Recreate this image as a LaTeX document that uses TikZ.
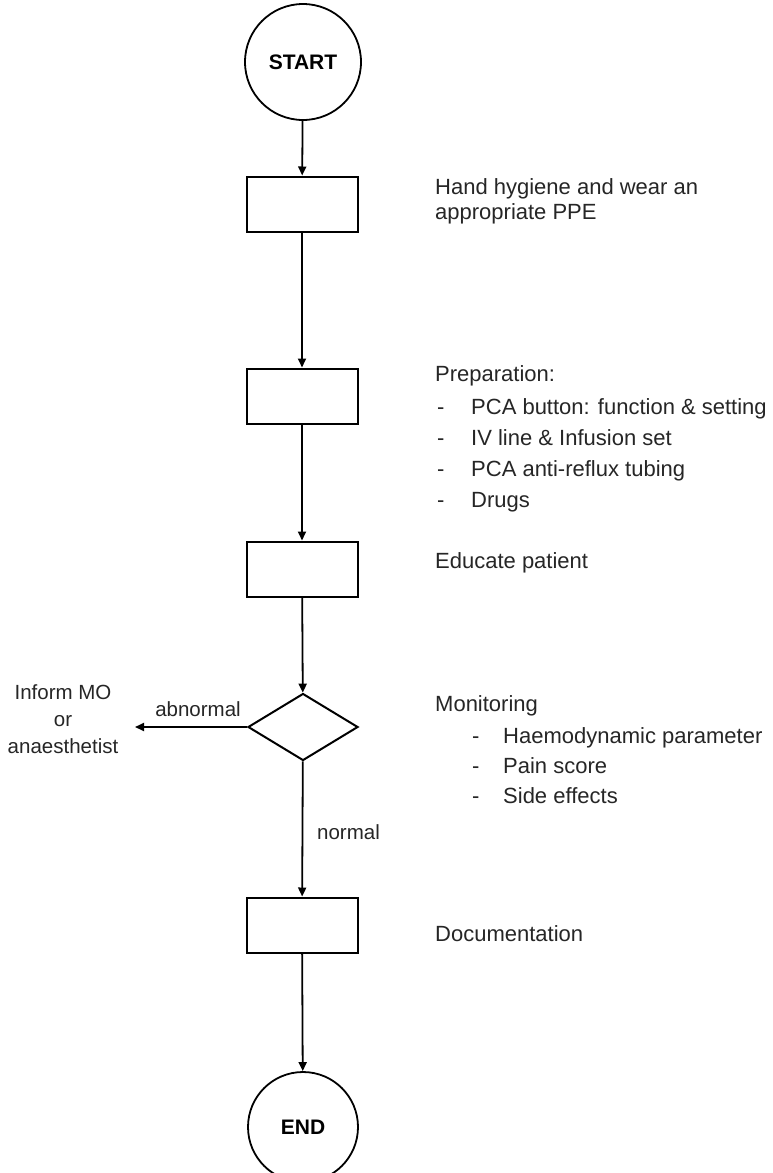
\documentclass[tikz,border=0pt]{standalone}
\usepackage{fontspec}
\setmainfont{Liberation Sans}
\usepackage{tikz}
\usetikzlibrary{arrows.meta,shapes.geometric}
\tikzset{
  term/.style={draw,circle,line width=1.8pt,minimum size=116pt,inner sep=0pt,font=\fontsize{21}{25}\selectfont\bfseries},
  stp/.style={draw,rectangle,line width=2pt,minimum width=111pt,minimum height=55pt,inner sep=0pt},
  dec/.style={draw,diamond,line width=2pt,minimum width=110pt,minimum height=67pt,inner sep=0pt},
  flw/.style={line width=1.8pt,-{Triangle[length=9pt,width=8pt]}},
  txt/.style={anchor=west,inner sep=0pt,text height=16pt,text depth=5pt,text=black!85,font=\fontsize{22}{25}\selectfont},
  lbl/.style={inner sep=0pt,text=black!85,font=\fontsize{20.5}{27}\selectfont}
}

\begin{document}
\begin{tikzpicture}[x=1pt,y=-1pt]
\useasboundingbox[fill=white] (0,0) rectangle (773,1173);
% flow chart
\node[term] (start) at (303,62) {START};
\node[stp] (hand) at (302,204) {};
\node[stp] (prep) at (302,396) {};
\node[stp] (edu) at (302,569) {};
\node[dec] (mon) at (303,727) {};
\node[stp] (doc) at (302,925) {};
\node[term,minimum size=110pt] (end) at (303,1127) {END};
\draw[flw] (start) -- (hand);
\draw[flw] (hand) -- (prep);
\draw[flw] (prep) -- (edu);
\draw[flw] (edu) -- (mon);
\draw[flw] (mon) -- (doc);
\draw[flw] (doc) -- (end);
% abnormal branch
\node[lbl,align=center] (inform) at (63,719) {Inform MO\\or\\anaesthetist};
\coordinate (tip) at (135,727);
\draw[flw] (mon.west) -- (tip);
\node[lbl] (abn) at (198,709) {abnormal};
\node[lbl,anchor=west] (nrm) at (317,832) {normal};
% descriptions
\node[txt,align=left,text height=,text depth=] (handtxt) at (435,201) {Hand hygiene and wear an\\appropriate PPE};
\node[txt] (preptxt) at (435,376) {Preparation:};
\foreach \t [count=\i] in {{PCA button: function \& setting},{IV line \& Infusion set},{PCA anti-reflux tubing},{Drugs}} {
  \node[txt] (prepdash\i) at (437,378+31*\i) {-};
  \node[txt] (prepitem\i) at (471,378+31*\i) {\t};
}
\node[txt] (edutxt) at (435,563) {Educate patient};
\node[txt] (montxt) at (435,706) {Monitoring};
\foreach \t [count=\i] in {{Haemodynamic parameter},{Pain score},{Side effects}} {
  \node[txt] (mondash\i) at (472,708+30*\i) {-};
  \node[txt] (monitem\i) at (503,708+30*\i) {\t};
}
\node[txt] (doctxt) at (435,936) {Documentation};
\end{tikzpicture}
\end{document}
